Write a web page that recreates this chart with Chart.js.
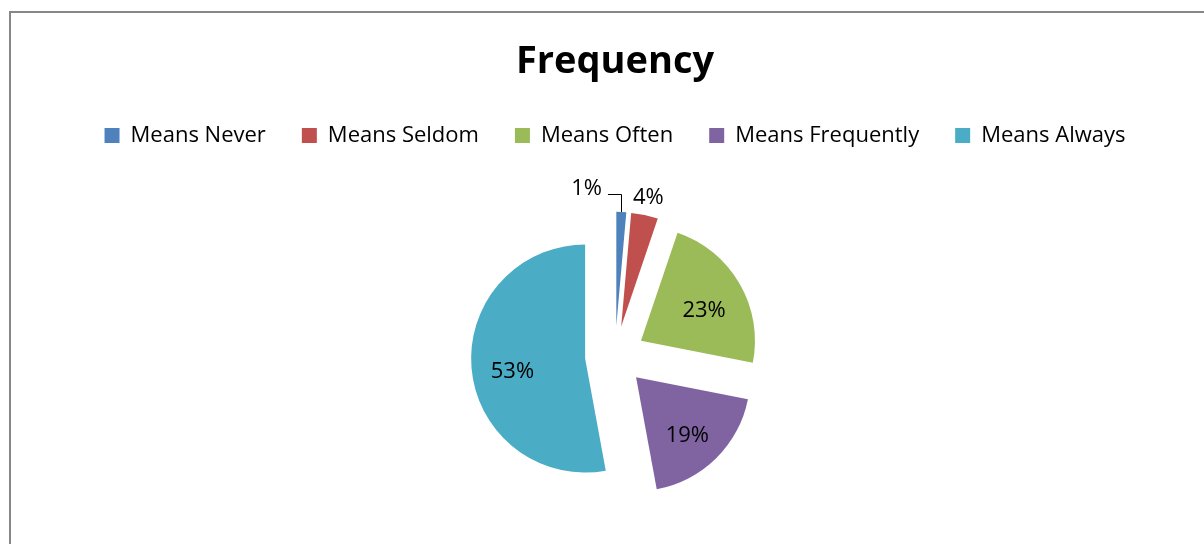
<!DOCTYPE html>
<html><head><meta charset="utf-8">
<script src="https://cdn.jsdelivr.net/npm/chart.js@4.4.1/dist/chart.umd.min.js"></script>
<style>
html,body{margin:0;padding:0;background:#fff;overflow:hidden}
#wrap{position:relative;width:1204px;height:544px;overflow:hidden}
#frame{position:absolute;left:9px;top:11px;width:1300px;height:600px;border-left:2px solid #878787;border-top:2px solid #878787;box-sizing:border-box;pointer-events:none}
canvas{position:absolute;left:0;top:0}
</style></head><body>
<div id="wrap"><canvas id="c" width="1204" height="555"></canvas><div id="frame"></div></div>
<script>
const categories = ['Means Never','Means Seldom','Means Often','Means Frequently','Means Always'];
const shares = [1.4, 3.8, 22.9, 19.0, 52.9];
const sliceColors = ['#4F81BD','#C0504D','#9BBB59','#8064A2','#4BACC6'];
const titleText = 'Frequency';

const FONT = '"Open Sans"';
const EXPLODE = 30; // distance each slice is pulled out (px)

// Arc element that is exploded by a plain translation (Excel style), keeping its radius.
class ExplodedArc extends Chart.ArcElement {
  draw(ctx) {
    const o = this.options;
    const off = o.offset || 0;
    const half = (this.startAngle + this.endAngle) / 2;
    ctx.save();
    ctx.translate(Math.cos(half) * off, Math.sin(half) * off);
    ctx.beginPath();
    ctx.moveTo(this.x, this.y);
    ctx.arc(this.x, this.y, this.outerRadius, this.startAngle, this.endAngle);
    ctx.closePath();
    ctx.fillStyle = o.backgroundColor;
    ctx.fill();
    ctx.restore();
  }
}
ExplodedArc.id = 'explodedArc';
ExplodedArc.defaults = Object.assign({}, Chart.ArcElement.defaults);
ExplodedArc.defaultRoutes = Object.assign({}, Chart.ArcElement.defaultRoutes);

class ExplodedPieController extends Chart.PieController {}
ExplodedPieController.id = 'explodedPie';
ExplodedPieController.defaults = Object.assign({}, Chart.PieController.defaults, { dataElementType: 'explodedArc' });
ExplodedPieController.overrides = Chart.PieController.overrides;
Chart.register(ExplodedArc, ExplodedPieController);

const pieLabels = {
  id: 'pieLabels',
  afterDatasetsDraw(chart) {
    const ctx = chart.ctx;
    const meta = chart.getDatasetMeta(0);
    const data = chart.data.datasets[0].data;
    const total = data.reduce((a, b) => a + b, 0);
    ctx.save();
    ctx.font = '22px ' + FONT;
    ctx.fillStyle = '#000';
    ctx.strokeStyle = '#000';
    ctx.lineWidth = 1;
    ctx.textAlign = 'center';
    ctx.textBaseline = 'middle';
    const outside = [];
    meta.data.forEach((el, i) => {
      const p = el.getProps(['x', 'y', 'startAngle', 'endAngle', 'outerRadius'], true);
      const shift = el.options.offset || 0;
      const mid = (p.startAngle + p.endAngle) / 2;
      const cx = p.x + Math.cos(mid) * shift;
      const cy = p.y + Math.sin(mid) * shift;
      const R = p.outerRadius;
      const pct = data[i] / total * 100;
      const txt = Math.round(pct) + '%';
      if (pct >= 10) {
        ctx.fillText(txt, cx + Math.cos(mid) * R * 0.64, cy + Math.sin(mid) * R * 0.64 + 7);
      } else {
        outside.push({i, txt, mid, cx, cy, R,
          lx: cx + Math.cos(mid) * (R + 18), ly: cy + Math.sin(mid) * (R + 18),
          w: ctx.measureText(txt).width});
      }
    });
    let rightNeighbour = null;
    for (let k = outside.length - 1; k >= 0; k--) {
      const o = outside[k];
      let shifted = false;
      if (rightNeighbour) {
        const limit = rightNeighbour.lx - rightNeighbour.w / 2 - 31;
        if (o.lx + o.w / 2 > limit) {
          o.lx = limit - o.w / 2;
          o.ly -= 5;
          shifted = true;
        }
      }
      ctx.fillText(o.txt, o.lx, o.ly);
      if (shifted) {
        const tipX = Math.round(o.cx + Math.cos(o.mid) * o.R) + 0.5;
        const tipY = o.cy + Math.sin(o.mid) * o.R;
        const hy = Math.round(o.ly + 5) + 0.5;
        ctx.beginPath();
        ctx.moveTo(o.lx + o.w / 2 + 6, hy);
        ctx.lineTo(tipX, hy);
        ctx.lineTo(tipX, tipY);
        ctx.stroke();
      }
      rightNeighbour = o;
    }
    ctx.restore();
  }
};

new Chart(document.getElementById('c'), {
  type: 'explodedPie',
  data: {
    labels: categories,
    datasets: [{
      data: shares,
      backgroundColor: sliceColors,
      borderWidth: 0,
      offset: EXPLODE,
      radius: 114
    }]
  },
  options: {
    responsive: false,
    animation: false,
    layout: { padding: { left: 26, right: 0, top: 0, bottom: 0 } },
    plugins: {
      title: {
        display: true, text: titleText, color: '#000',
        font: { family: FONT, size: 38, weight: 'bold' },
        padding: { top: 39, bottom: 4 }
      },
      legend: {
        position: 'top',
        labels: {
          color: '#000',
          font: { family: FONT, size: 22 },
          boxWidth: 15, boxHeight: 15, padding: 36
        }
      },
      tooltip: { enabled: false }
    }
  },
  plugins: [pieLabels]
});
</script>
</body></html>
